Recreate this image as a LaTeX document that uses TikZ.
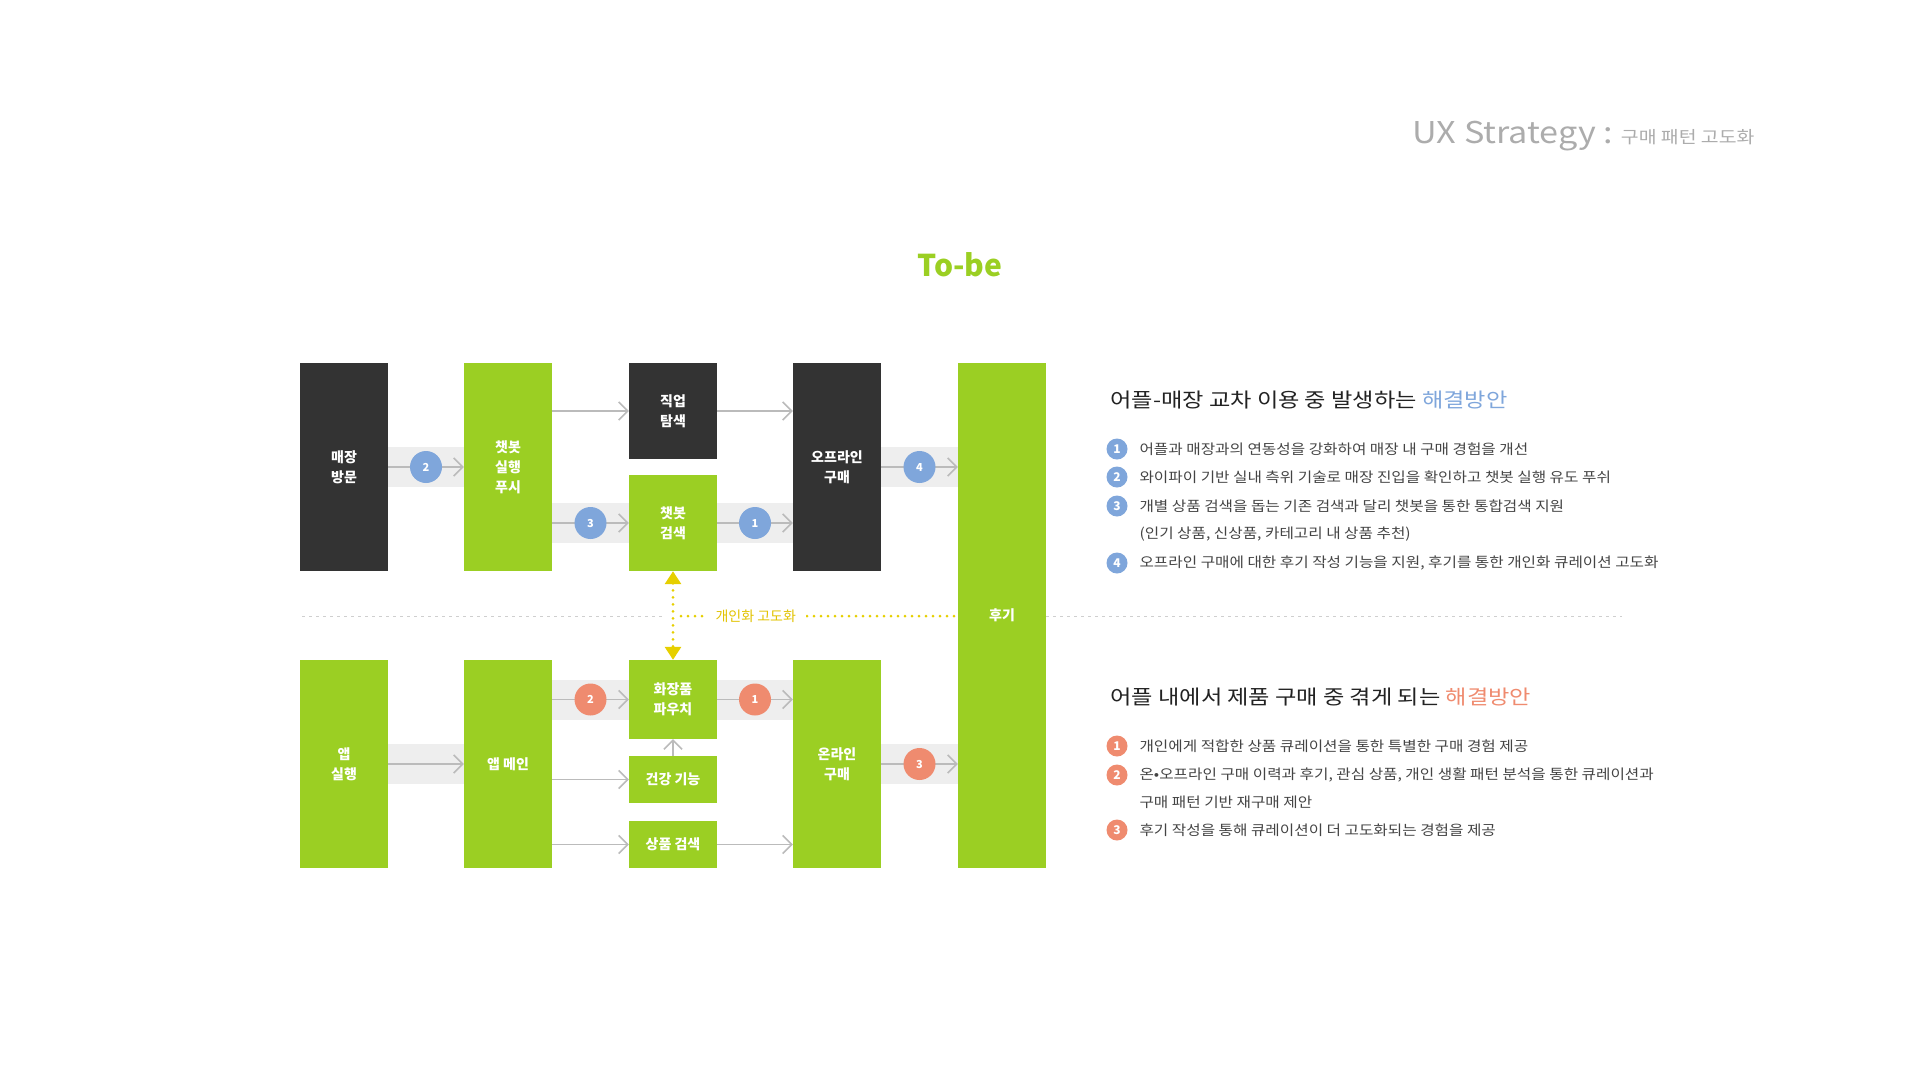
\documentclass[tikz,border=0pt]{standalone}
\usepackage{fontspec}
\setmainfont{Noto Sans CJK KR}
\newfontfamily\headfont{Noto Sans CJK KR}[FakeStretch=1.16]
\newfontfamily\notefont{Noto Sans CJK KR}[FakeStretch=1.12]
\newfontfamily\titlefont{Noto Sans CJK KR}[FakeStretch=1.14]
\usetikzlibrary{arrows.meta}
\definecolor{leaf}{HTML}{9BCF23}
\definecolor{coal}{HTML}{333333}
\definecolor{sky}{HTML}{7FA6DB}
\definecolor{coral}{HTML}{EF8B6F}
\definecolor{lemon}{HTML}{E6CF00}
\definecolor{lemontext}{HTML}{E2C300}
\definecolor{beltgray}{HTML}{EEEEEE}
\definecolor{wiregray}{HTML}{BBBBBB}
\definecolor{titlegray}{HTML}{ACACAC}
\definecolor{ink}{HTML}{222222}
\definecolor{softink}{HTML}{444444}
\tikzset{
  box/.style={minimum width=88pt,inner sep=0pt,align=center,text=white,
    font=\bfseries\fontsize{14}{20}\selectfont},
  leafbox/.style={box,fill=leaf},
  coalbox/.style={box,fill=coal},
  belt/.style={draw=beltgray,line width=40pt},
  wire/.style={draw=wiregray,line width=1.6pt,-{Straight Barb[length=9pt,width=18pt]}},
  numdot/.style={circle,minimum size=32pt,inner sep=0pt,text=white,
    font=\bfseries\fontsize{11}{11}\selectfont},
  skydot/.style={numdot,fill=sky},
  coraldot/.style={numdot,fill=coral},
  nodot/.style={},
  bullet/.style={circle,minimum size=21pt,inner sep=0pt,text=white,
    font=\bfseries\fontsize{12}{12}\selectfont},
  seam/.style={draw=wiregray!70,line width=0.8pt,dash pattern=on 3pt off 4pt},
  lemondots/.style={draw=lemon,line width=3pt,line cap=round,dash pattern=on 0pt off 7pt},
  head/.style={anchor=west,text=ink,font=\headfont\fontsize{20}{24}\selectfont},
  item/.style={anchor=west,text=softink,font=\notefont\fontsize{14}{16}\selectfont},
}
\begin{document}
\begin{tikzpicture}[x=1pt,y=-1pt]
\useasboundingbox (0,0) rectangle (1920,1080);

% title
\node[anchor=base east,text=titlegray,font=\titlefont] (title) at (1758,143)
  {{\fontsize{30}{30}\selectfont UX Strategy :\ }{\fontsize{17}{17}\selectfont 구매 패턴 고도화}};
\node[text=leaf,font=\bfseries\fontsize{30}{30}\selectfont] (tobe) at (960,265) {To-be};

% upper flow
\node[coalbox,minimum height=208pt] (visit) at (344,467) {매장\\방문};
\node[leafbox,minimum height=208pt] (push) at (508,467) {챗봇\\실행\\푸시};
\node[coalbox,minimum height=96pt] (job) at (673,411) {직업\\탐색};
\node[leafbox,minimum height=96pt] (chatsearch) at (673,523) {챗봇\\검색};
\node[coalbox,minimum height=208pt] (offline) at (837,467) {오프라인\\구매};
\node[leafbox,minimum height=505pt] (review) at (1002,615.5) {후기};

% lower flow
\node[leafbox,minimum height=208pt] (appstart) at (344,764) {앱\\실행};
\node[leafbox,minimum height=208pt] (appmain) at (508,764) {앱 메인};
\node[leafbox,minimum height=79pt] (pouch) at (673,699.5) {화장품\\파우치};
\node[leafbox,minimum height=47pt] (health) at (673,779.5) {건강 기능};
\node[leafbox,minimum height=47pt] (psearch) at (673,844.5) {상품 검색};
\node[leafbox,minimum height=208pt] (online) at (837,764) {온라인\\구매};

% numbered flows
\foreach \s/\t/\y/\d/\n in {visit/push/visit/skydot/2, push/chatsearch/chatsearch/skydot/3,
  chatsearch/offline/chatsearch/skydot/1, offline/review/offline/skydot/4,
  appstart/appmain/appstart/nodot/, appmain/pouch/pouch/coraldot/2,
  pouch/online/pouch/coraldot/1, online/review/online/coraldot/3}{
  \draw[belt] (\s.east |- \y) -- (\t.west |- \y);
  \draw[wire] (\s.east |- \y) -- (\t.west |- \y) node[midway,\d] (dot-\s-\t) {\n};
}

% plain flows
\draw[wire] (push.east |- job) -- (job);
\draw[wire] (job) -- (job -| offline.west);
\draw[wire] (appmain.east |- health) -- (health);
\draw[wire] (health) -- (pouch);
\draw[wire] (appmain.east |- psearch) -- (psearch);
\draw[wire] (psearch) -- (psearch -| online.west);

% divider
\coordinate (seamL) at (302,616);
\coordinate (seamR) at (1622,616);
\draw[seam] (seamL) -- ([xshift=-8pt]chatsearch.south |- seamL);
\draw[seam] (review.east |- seamL) -- (seamR);
\draw[lemondots] ([xshift=8pt]chatsearch.south |- seamL) -- (review.west |- seamL)
  node[pos=0.27,fill=white,inner xsep=10pt,text=lemontext,font=\fontsize{14}{14}\selectfont] (tune) {개인화 고도화};
\draw[lemondots,{Triangle[length=13pt,width=16pt]}-{Triangle[length=13pt,width=16pt]}] (chatsearch) -- (pouch);

% notes
\node[head] (h1) at (1107,400) {어플-매장 교차 이용 중 발생하는 \textcolor{sky}{해결방안}};
\foreach \y/\n/\t in {449/1/어플과 매장과의 연동성을 강화하여 매장 내 구매 경험을 개선,
  477/2/와이파이 기반 실내 측위 기술로 매장 진입을 확인하고 챗봇 실행 유도 푸쉬,
  506/3/개별 상품 검색을 돕는 기존 검색과 달리 챗봇을 통한 통합검색 지원,
  563/4/오프라인 구매에 대한 후기 작성 기능을 지원{,} 후기를 통한 개인화 큐레이션 고도화}{
  \node[bullet,fill=sky] (b1-\n) at (1117,\y) {\n};
  \node[item] (t1-\n) at (1136,\y) {\t};
}
\node[item] (t1-3b) at (1136,534) {(인기 상품, 신상품, 카테고리 내 상품 추천)};

\node[head] (h2) at (1107,697) {어플 내에서 제품 구매 중 겪게 되는 \textcolor{coral}{해결방안}};
\foreach \y/\n/\t in {746/1/개인에게 적합한 상품 큐레이션을 통한 특별한 구매 경험 제공,
  775/2/온•오프라인 구매 이력과 후기{,} 관심 상품{,} 개인 생활 패턴 분석을 통한 큐레이션과,
  830/3/후기 작성을 통해 큐레이션이 더 고도화되는 경험을 제공}{
  \node[bullet,fill=coral] (b2-\n) at (1117,\y) {\n};
  \node[item] (t2-\n) at (1136,\y) {\t};
}
\node[item] (t2-2b) at (1136,802) {구매 패턴 기반 재구매 제안};
\end{tikzpicture}
\end{document}
